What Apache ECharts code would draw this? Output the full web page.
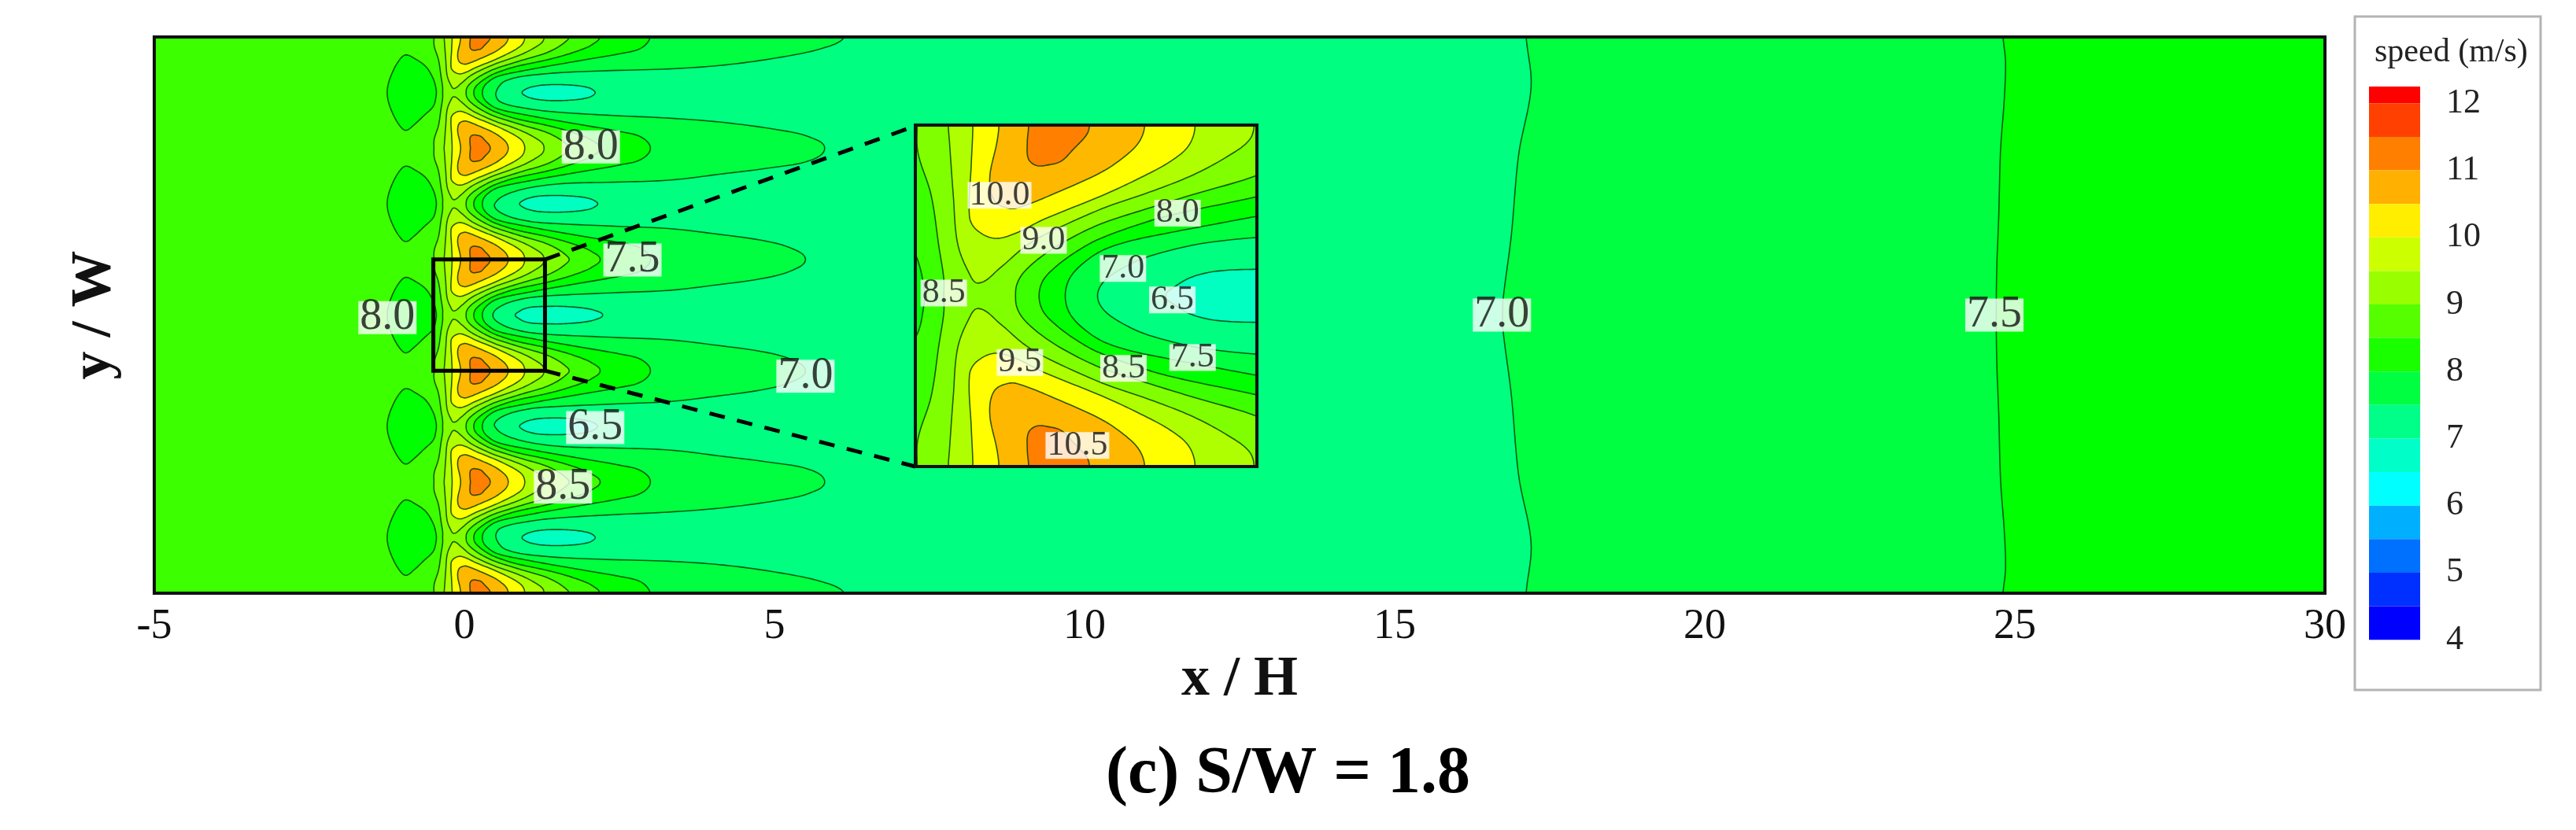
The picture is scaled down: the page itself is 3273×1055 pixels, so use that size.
<!DOCTYPE html>
<html>
<head>
<meta charset="utf-8">
<style>html,body{margin:0;padding:0;background:#fff}#c{width:3273px;height:1055px}</style>
<script src="https://cdn.jsdelivr.net/npm/echarts@6/dist/echarts.min.js"></script>
</head>
<body>
<div id="c"></div>
<script>
// ---- axis / legend values ----
const xTicks = [-5, 0, 5, 10, 15, 20, 25, 30];
const legendTicks = [4, 5, 6, 7, 8, 9, 10, 11, 12];
const legendEdges = [12.25, 12, 11.5, 11, 10.5, 10, 9.5, 9, 8.5, 8, 7.5, 7, 6.5, 6, 5.5, 5, 4.5, 4, 3.72];
const legendColors = ['#ff0000','#ff4000','#ff8000','#ffb000','#ffee00','#ccff00','#99ff00','#55ff00','#1aff00','#00ff40','#00ff88','#00ffc8','#00ffff','#00b0ff','#0070ff','#0030ff','#0000ff'];

// ---- row positions (y / W) ----
const peakRows = [4.5, 2.7, 0.9, -0.9, -2.7, -4.5];
const troughRows = [3.6, 1.8, 0, -1.8, -3.6];

// ---- contours: [x, distance from the peak row] ----
const level105 = [[0.097,0],[0.09,0.09],[0.096,0.178],[0.138,0.213],[0.2,0.21],[0.269,0.19],[0.33,0.13],[0.403,0.05],[0.417,0]];
const level100 = [[-0.06,0],[-0.07,0.09],[-0.108,0.28],[-0.083,0.4],[0,0.44],[0.0685,0.427],[0.207,0.372],[0.483,0.247],[0.622,0.15],[0.684,0.081],[0.708,0]];
const level95 = [[-0.197,0],[-0.205,0.2],[-0.215,0.48],[-0.18,0.55],[-0.083,0.597],[0.028,0.57],[0.179,0.496],[0.483,0.372],[0.691,0.275],[0.843,0.192],[0.94,0.109],[0.974,0]];
const level90 = [[-0.326,0],[-0.32,0.09],[-0.3,0.37],[-0.278,0.62],[-0.222,0.77],[-0.167,0.833],[-0.05,0.75],[0.0685,0.648],[0.179,0.579],[0.483,0.441],[0.76,0.344],[0.967,0.261],[1.147,0.164],[1.258,0.081],[1.285,0]];
const level85Right = [[1.69,0],[1.65,0.06],[1.5,0.17],[1.293,0.268],[0.967,0.365],[0.72,0.441],[0.47,0.524],[0.276,0.62],[0.15,0.704],[0.0685,0.78],[0.035,0.84],[0.028,0.9]];
const level85Left = [[-0.49,0],[-0.486,0.146],[-0.417,0.368],[-0.375,0.646],[-0.35,0.81],[-0.35,0.9]];
const level80 = [[2.19,0],[2.05,0.13],[1.9,0.2],[1.6,0.3],[1.293,0.379],[0.9,0.462],[0.72,0.51],[0.47,0.6],[0.345,0.669],[0.234,0.752],[0.172,0.821],[0.152,0.9]];
const level75 = [[3.0,0],[2.85,0.18],[2.51,0.27],[1.94,0.37],[1.293,0.482],[1.106,0.517],[0.815,0.572],[0.62,0.614],[0.483,0.662],[0.373,0.738],[0.31,0.814],[0.29,0.9]];
// 7.0 contour, upper half, in [x, y]
const level70Upper = [[6.13,4.5],[5.79,4.322],[5.11,4.174],[4.2,4.047],[3.3,3.983],[2.17,3.95],[1.26,3.9],[0.67,3.793],[0.51,3.6],[0.58,3.45],[1.03,3.34],[1.49,3.285],[2.39,3.23],[3.3,3.187],[4.2,3.115],[5.11,2.99],[5.57,2.88],[5.81,2.7],[5.57,2.5],[4.87,2.374],[4.2,2.29],[3.3,2.183],[2.39,2.15],[1.49,2.12],[0.81,2.0],[0.49,1.8],[0.62,1.638],[1.037,1.52],[1.49,1.48],[2.39,1.44],[3.3,1.4],[4.0,1.32],[4.85,1.2],[5.3,1.07],[5.5,0.9],[5.3,0.73],[4.85,0.6],[4.0,0.48],[3.3,0.4],[2.39,0.36],[1.49,0.32],[1.037,0.28],[0.76,0.217],[0.622,0.162],[0.497,0.079],[0.46,0]];
// far-field contours, upper half, in [x, y]
const far70Upper = [[17.12,4.5],[17.2,3.69],[17.0,2.6],[16.88,1.28],[16.75,0.27],[16.74,0]];
const far75Upper = [[24.81,4.5],[24.85,4.1],[24.83,3.5],[24.77,2.67],[24.74,1.59],[24.71,0.8],[24.7,0]];
// closed islands around the trough rows: [x, distance from the trough row]
const lobe80 = [[-0.94,0.61],[-1.03,0.55],[-1.15,0.35],[-1.235,0.1],[-1.235,-0.1],[-1.15,-0.35],[-1.03,-0.55],[-0.94,-0.61],[-0.82,-0.53],[-0.65,-0.37],[-0.5,-0.22],[-0.455,-0.05],[-0.455,0.05],[-0.5,0.22],[-0.62,0.42],[-0.8,0.55]];
const lens65Row0 = [[0.82,0],[0.87,0.05],[0.96,0.1],[1.09,0.13],[1.3,0.14],[1.6,0.14],[1.95,0.11],[2.15,0.06],[2.23,0]];
const lens65Row18 = [[0.89,0],[0.94,0.05],[1.03,0.09],[1.2,0.125],[1.5,0.135],[1.8,0.12],[2.0,0.09],[2.1,0.05],[2.15,0]];
const lens65Row36 = [[0.93,0],[0.98,0.05],[1.08,0.09],[1.25,0.12],[1.5,0.13],[1.8,0.115],[2.0,0.08],[2.08,0.04],[2.11,0]];

// ---- band colours ----
const colorField = '#3cff00', color80 = '#00ff00', color75 = '#00ff40', color70 = '#00ff80', color65 = '#00ffc0';
const color85 = '#80ff00', color90 = '#b0ff00', color95 = '#ffff00', color100 = '#ffb800', color105 = '#ff8000';

// ---- contour labels: [x, y, text] ----
const mainLabels = [[2.04,2.72,'8.0'],[2.71,0.89,'7.5'],[-1.24,-0.04,'8.0'],[5.5,-0.99,'7.0'],[2.11,-1.82,'6.5'],[1.59,-2.78,'8.5'],[16.73,0,'7.0'],[24.67,0,'7.5']];
const insetLabels = [[-0.056,0.53,'10.0'],[0.176,0.292,'9.0'],[0.882,0.436,'8.0'],[0.594,0.144,'7.0'],[-0.35,0.014,'8.5'],[0.854,-0.022,'6.5'],[0.051,-0.351,'9.5'],[0.597,-0.383,'8.5'],[0.961,-0.326,'7.5'],[0.354,-0.789,'10.5']];
const zoomBox = [-0.5, -0.9, 1.3, 0.9];
const leaderTop = [[1.3, 0.9], [7.27, 3.06]];
const leaderBottom = [[1.3, -0.9], [7.27, -2.45]];

// ---- helpers building closed outlines out of the read contours ----
function acrossRows(half) {
  const out = [];
  peakRows.forEach((p, i) => {
    if (i > 0) half.slice(0, -1).reverse().forEach(q => out.push([q[0], p + q[1]]));
    if (i < peakRows.length - 1) half.forEach((q, k) => { if (k > 0 || i === 0) out.push([q[0], p - q[1]]); });
  });
  return out;
}
function mirrorHalf(upper) {
  return upper.concat(upper.slice(0, -1).reverse().map(q => [q[0], -q[1]]));
}
function withExt(c) {
  const a = c[0], b = c[c.length - 1];
  return [[a[0], 5.4], [a[0], 4.8]].concat(c, [[b[0], -4.8], [b[0], -5.4]]);
}
function island(half, row) {
  const up = half.map(q => [q[0], row + q[1]]);
  const dn = half.slice(1, -1).reverse().map(q => [q[0], row - q[1]]);
  return up.concat(dn);
}
function lens(half, row) { return island(half, row); }

const layers = [];
layers.push({ fill: colorField, stroke: false, pts: [[-7, 7], [32, 7], [32, -7], [-7, -7]], raw: true });
troughRows.forEach(r => layers.push({ fill: color80, pts: lobe80.map(q => [q[0], r + q[1]]) }));
layers.push({ fill: color80, pts: [[40, -6]].concat([[40, 6]], withExt(acrossRows(level80))) });
layers.push({ fill: color75, pts: withExt(acrossRows(level75)).concat(withExt(mirrorHalf(far75Upper)).reverse()) });
layers.push({ fill: color70, pts: withExt(mirrorHalf(level70Upper)).concat(withExt(mirrorHalf(far70Upper)).reverse()) });
[[lens65Row36, 3.6], [lens65Row18, 1.8], [lens65Row0, 0], [lens65Row18, -1.8], [lens65Row36, -3.6]].forEach(e => layers.push({ fill: color65, pts: lens(e[0], e[1]) }));
layers.push({ fill: color85, pts: withExt(acrossRows(level85Right)).concat(withExt(acrossRows(level85Left)).reverse()) });
[[level90, color90], [level95, color95], [level100, color100], [level105, color105]].forEach(l =>
  peakRows.forEach(r => layers.push({ fill: l[1], pts: island(l[0], r) })));

function smoothLoop(p) {
  const n = p.length, out = [];
  const tan = p.map((_, i) => {
    const a = p[(i - 1 + n) % n], b = p[(i + 1) % n];
    const dx = b[0] - a[0], dy = b[1] - a[1], l = Math.hypot(dx, dy) || 1;
    return [dx / l, dy / l];
  });
  for (let i = 0; i < n; i++) {
    const j = (i + 1) % n, a = p[i], b = p[j], d = Math.hypot(b[0] - a[0], b[1] - a[1]);
    const c1 = [a[0] + tan[i][0] * d / 3, a[1] + tan[i][1] * d / 3];
    const c2 = [b[0] - tan[j][0] * d / 3, b[1] - tan[j][1] * d / 3];
    for (let s = 0; s < 10; s++) {
      const t = s / 10, u = 1 - t;
      out.push([
        u*u*u*a[0] + 3*u*u*t*c1[0] + 3*u*t*t*c2[0] + t*t*t*b[0],
        u*u*u*a[1] + 3*u*u*t*c1[1] + 3*u*t*t*c2[1] + t*t*t*b[1]
      ]);
    }
  }
  return out;
}
const contourStroke = 'rgba(0,50,0,0.8)';
function drawLayer(params, api) {
  const l = layers[api.value(0)];
  const px = l.pts.map(q => api.coord(q));
  return {
    type: 'polygon',
    shape: { points: l.raw ? px : smoothLoop(px) },
    style: { fill: l.fill, stroke: l.stroke === false ? null : contourStroke, lineWidth: 1.6 }
  };
}
function drawRect(stroke, width) {
  return function (params, api) {
    const a = api.coord([api.value(0), api.value(3)]), b = api.coord([api.value(2), api.value(1)]);
    return { type: 'rect', shape: { x: a[0], y: a[1], width: b[0] - a[0], height: b[1] - a[1] }, style: { fill: null, stroke: stroke, lineWidth: width } };
  };
}
function drawBand(params, api) {
  const a = api.coord([0, api.value(0)]), b = api.coord([1, api.value(1)]);
  return { type: 'rect', shape: { x: a[0], y: a[1], width: b[0] - a[0], height: b[1] - a[1] }, style: { fill: legendColors[params.dataIndex] } };
}
const serif = '"Liberation Serif", serif';
const layerData = layers.map((_, i) => [i, 0]);
function labelSeries(data, xi, yi, size, lh, z) {
  return {
    type: 'scatter', xAxisIndex: xi, yAxisIndex: yi, z: z, symbolSize: 1, silent: true,
    itemStyle: { color: 'rgba(0,0,0,0)' },
    data: data,
    label: {
      show: true, position: 'inside', color: '#111', fontFamily: serif, fontSize: size, lineHeight: lh,
      backgroundColor: '#fff', padding: [0, 2], formatter: p => p.value[2]
    }
  };
}
const chart = echarts.init(document.getElementById('c'), null, { renderer: 'canvas' });
chart.setOption({
  animation: false,
  backgroundColor: '#fff',
  title: [
    {
      text: '{n|(}{b|c}{n|) S/W = 1.8}', left: 'center', top: 938,
      textStyle: { rich: { n: { fontFamily: serif, fontSize: 84, color: '#000' }, b: { fontFamily: serif, fontSize: 84, fontWeight: 'bold', color: '#000' } } }
    },
    { text: 'speed (m/s)', left: 3012, top: 41, textStyle: { fontFamily: serif, fontSize: 42, fontWeight: 'normal', color: '#222' } }
  ],
  graphic: [{ type: 'rect', shape: { x: 2992, y: 21, width: 236, height: 856 }, style: { fill: null, stroke: '#b4b4b4', lineWidth: 3 } }],
  grid: [
    { left: 196, top: 47, width: 2758, height: 707, show: false },
    { left: 1163, top: 159, width: 434, height: 434, show: false },
    { left: 3010, top: 110, width: 65, height: 727, show: false }
  ],
  xAxis: [
    {
      gridIndex: 0, type: 'value', min: -5, max: 30, interval: 5, name: 'x / H', nameLocation: 'middle', nameGap: 68,
      nameTextStyle: { fontFamily: serif, fontSize: 72, fontWeight: 'bold', color: '#111' },
      axisLine: { show: false }, splitLine: { show: false },
      axisTick: { show: true, inside: true, length: 18, lineStyle: { color: '#000', width: 3 } },
      axisLabel: { fontFamily: serif, fontSize: 54, color: '#111', margin: 16, customValues: xTicks, hideOverlap: false }
    },
    { gridIndex: 1, type: 'value', min: -0.5, max: 1.3, show: false },
    { gridIndex: 2, type: 'value', min: 0, max: 1, show: false }
  ],
  yAxis: [
    {
      gridIndex: 0, type: 'value', min: -4.5, max: 4.5, name: 'y / W', nameLocation: 'middle', nameGap: 40,
      nameTextStyle: { fontFamily: serif, fontSize: 72, fontWeight: 'bold', color: '#111' },
      axisLine: { show: false }, axisTick: { show: false }, axisLabel: { show: false }, splitLine: { show: false }
    },
    { gridIndex: 1, type: 'value', min: -0.9, max: 0.9, show: false },
    {
      gridIndex: 2, type: 'value', min: 3.72, max: 12.25, position: 'right',
      axisLine: { show: false }, axisTick: { show: false }, splitLine: { show: false },
      axisLabel: { customValues: legendTicks, fontFamily: serif, fontSize: 44, color: '#222', margin: 33, align: 'left', padding: [14, 0, 0, 0] }
    }
  ],
  series: [
    { type: 'custom', xAxisIndex: 0, yAxisIndex: 0, z: 2, clip: true, silent: true, renderItem: drawLayer, data: layerData },
    { type: 'custom', xAxisIndex: 0, yAxisIndex: 0, z: 3, clip: false, silent: true, renderItem: drawRect('#000', 5), data: [zoomBox] },
    { type: 'line', xAxisIndex: 0, yAxisIndex: 0, z: 3, silent: true, symbol: 'none', data: leaderTop, lineStyle: { color: '#000', width: 5, type: [20, 16] } },
    { type: 'line', xAxisIndex: 0, yAxisIndex: 0, z: 3, silent: true, symbol: 'none', data: leaderBottom, lineStyle: { color: '#000', width: 5, type: [20, 16] } },
    { type: 'custom', xAxisIndex: 0, yAxisIndex: 0, z: 4, clip: false, silent: true, renderItem: drawRect('#111', 4), data: [[-5, -4.5, 30, 4.5]] },
    labelSeries(mainLabels, 0, 0, 56, 42, 5),
    { type: 'custom', xAxisIndex: 1, yAxisIndex: 1, z: 6, clip: true, silent: true, renderItem: drawLayer, data: layerData },
    { type: 'custom', xAxisIndex: 1, yAxisIndex: 1, z: 7, clip: false, silent: true, renderItem: drawRect('#111', 4), data: [[-0.5, -0.9, 1.3, 0.9]] },
    labelSeries(insetLabels, 1, 1, 44, 34, 8),
    {
      type: 'custom', xAxisIndex: 2, yAxisIndex: 2, z: 2, silent: true, renderItem: drawBand,
      data: legendColors.map((_, i) => [legendEdges[i], legendEdges[i + 1]])
    }
  ]
});
</script>
</body>
</html>
